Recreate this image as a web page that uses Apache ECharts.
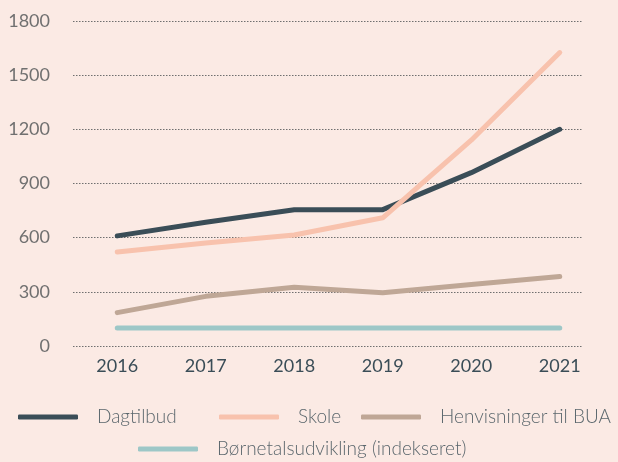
<!DOCTYPE html>
<html><head><meta charset="utf-8">
<script src="https://cdn.jsdelivr.net/npm/echarts@6/dist/echarts.min.js"></script>
<style>html,body{margin:0;padding:0;background:#fbeae4;}#c{width:618px;height:462px;}</style>
</head><body><div id="c"></div>
<script>
const years = ['2016','2017','2018','2019','2020','2021'];
const dagtilbud = [610, 685, 755, 755, 960, 1200];
const skole = [520, 570, 615, 710, 1140, 1625];
const henvisninger = [185, 275, 325, 295, 340, 385];
const boernetal = [100, 100, 100, 100, 100, 100];
const seriesNames = ['Dagtilbud','Skole','Henvisninger til BUA','Børnetalsudvikling (indekseret)'];
const colors = ['#3a4d57','#f8c2ad','#bfa796','#9dc7c7'];
const yTicks = {min:0, max:1800, interval:300};

const font = 'Lato';
const chart = echarts.init(document.getElementById('c'), null, {renderer:'canvas'});
const vals = [dagtilbud, skole, henvisninger, boernetal];
const legendPos = [
  {left:18, top:407},
  {left:219, top:407},
  {left:361, top:407},
  {left:138, top:439}
];
chart.setOption({
  backgroundColor:'#fbeae4',
  animation:false,
  textStyle:{fontFamily:font},
  grid:[
    {left:73, right:36, top:21, bottom:116},
    {left:73, right:14, top:21, bottom:116}
  ],
  xAxis:[
    {gridIndex:0, type:'category', data:years, show:false},
    {gridIndex:1, type:'category', data:years, boundaryGap:true,
     axisLine:{show:false}, axisTick:{show:false}, splitLine:{show:false},
     axisLabel:{color:'#3a4d57', fontSize:18, fontFamily:font, margin:11}}
  ],
  yAxis:[
    {gridIndex:0, type:'value', min:yTicks.min, max:yTicks.max, interval:yTicks.interval,
     axisLine:{show:false}, axisTick:{show:false},
     axisLabel:{color:'#707070', fontSize:18, fontFamily:font, margin:23, formatter:(v)=>String(v)},
     splitLine:{show:true, lineStyle:{color:'#6f6f6f', type:[1.5,1.5], width:1}}},
    {gridIndex:1, type:'value', min:yTicks.min, max:yTicks.max, interval:yTicks.interval, show:false, splitLine:{show:false}}
  ],
  legend: seriesNames.map((n,i)=>({
    data:[n], left:legendPos[i].left, top:legendPos[i].top, padding:0,
    itemWidth:60, itemHeight:5, icon:'roundRect',
    textStyle:{color:'#5b676d', fontSize:19, fontFamily:font, fontWeight:300, lineHeight:20, padding:[0,0,0,14]}
  })),
  series: seriesNames.map((n,i)=>({
    name:n, type:'line', xAxisIndex:1, yAxisIndex:1, data:vals[i],
    showSymbol:false, symbol:'none', color:colors[i],
    lineStyle:{width:5, color:colors[i], cap:'round', join:'round'}
  }))
});
</script></body></html>
